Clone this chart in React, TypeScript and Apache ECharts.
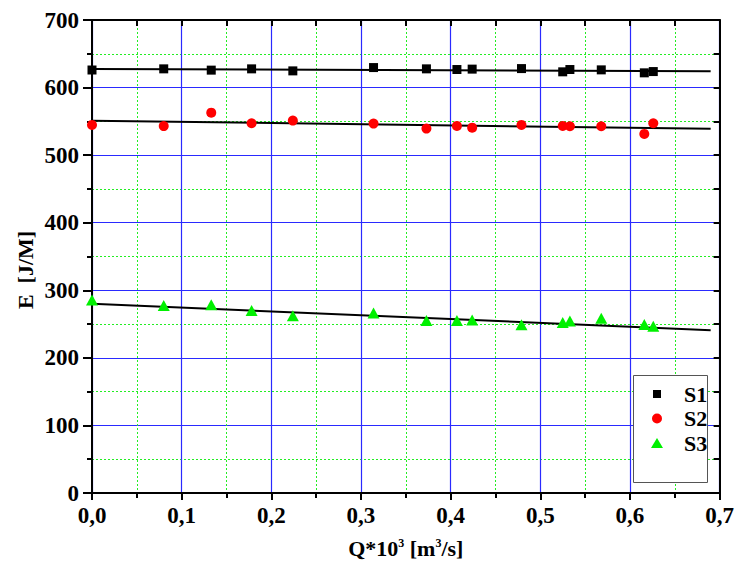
import React, { useEffect, useRef } from "react";
import * as echarts from "echarts";

const qS1 = [0.0, 0.08, 0.133, 0.178, 0.224, 0.314, 0.373, 0.407, 0.424, 0.479, 0.525, 0.533, 0.568, 0.616, 0.626];
const eS1 = [626, 627.7, 625.8, 627.7, 624.7, 629.6, 627.7, 626.7, 627.3, 628.1, 623.3, 626.7, 626.2, 621.8, 623.7];

const qS2 = [0.0, 0.08, 0.133, 0.178, 0.224, 0.314, 0.373, 0.407, 0.424, 0.479, 0.525, 0.533, 0.568, 0.616, 0.626];
const eS2 = [544.7, 543.0, 562.9, 547.2, 551.1, 546.7, 539.3, 543.3, 540.7, 544.7, 543.3, 542.8, 542.8, 531.4, 547.2];

const qS3 = [0.0, 0.08, 0.133, 0.178, 0.224, 0.314, 0.373, 0.407, 0.424, 0.479, 0.525, 0.533, 0.568, 0.616, 0.626];
const eS3 = [285.5, 277.6, 278.5, 270.2, 262.3, 266.2, 255.4, 255.4, 255.9, 248.9, 252.4, 254.6, 258.8, 249.4, 246.9];

const fitQ = [0.0, 0.69];
const fitS1 = [627.5, 624.0];
const fitS2 = [551.0, 539.0];
const fitS3 = [280.0, 241.0];

const seriesNames = ["S1", "S2", "S3"];

const zip = (xs: number[], ys: number[]) => xs.map((x, i) => [x, ys[i]]);

const FONT = "'Liberation Serif', 'Times New Roman', serif";

// legend icons padded inside a 12x12 box (the leading moves fix the bounding box)
const ICON_SQUARE = "path://M0,0M12,12M2,2L10,2L10,10L2,10Z";
const ICON_CIRCLE = "path://M0,0M12,12M1,6A5,5,0,1,1,11,6A5,5,0,1,1,1,6Z";
const ICON_TRIANGLE = "path://M0,0M12,12M6,1L12,11L0,11Z";

export default function App() {
  const ref = useRef<HTMLDivElement>(null);
  useEffect(() => {
    if (!ref.current) return;
    const chart = echarts.init(ref.current, undefined, { renderer: "svg" });
    const tickLabel = {
      fontFamily: FONT,
      fontWeight: "bold" as const,
      fontSize: 23,
      color: "#000",
    };
    const fitLine = (name: string, ys: number[]) => ({
      name,
      type: "line",
      data: zip(fitQ, ys),
      showSymbol: false,
      symbol: "none",
      lineStyle: { color: "#000", width: 2 },
      z: 3,
      silent: true,
    });
    chart.setOption({
      animation: false,
      backgroundColor: "#fff",
      grid: { left: 92, right: 14, top: 20, bottom: 79, containLabel: false },
      legend: {
        data: [
          { name: seriesNames[0], icon: ICON_SQUARE },
          { name: seriesNames[1], icon: ICON_CIRCLE },
          { name: seriesNames[2], icon: ICON_TRIANGLE },
        ],
        orient: "vertical",
        left: 651,
        top: 383,
        z: 20,
        itemWidth: 12,
        itemHeight: 12,
        itemGap: 2.5,
        padding: 0,
        textStyle: {
          fontFamily: FONT,
          fontWeight: "bold",
          fontSize: 22,
          color: "#000",
          lineHeight: 22,
          padding: [0, 0, 0, 16],
        },
      },
      graphic: [
        {
          type: "rect",
          shape: { x: 633.5, y: 375.5, width: 74, height: 107 },
          style: { fill: "#fff", stroke: "#555", lineWidth: 1 },
          z: 5,
        },
        {
          type: "text",
          x: 25,
          y: 270,
          rotation: Math.PI / 2,
          style: {
            text: "E  [J/M]",
            fontFamily: FONT,
            fontWeight: "bold",
            fontSize: 22,
            fill: "#000",
            align: "center",
            verticalAlign: "middle",
          },
        },
      ],
      xAxis: [
        {
          type: "value",
          min: 0,
          max: 0.7,
          interval: 0.1,
          position: "bottom",
          name: "Q*10{sup|3} [m{sup|3}/s]",
          nameLocation: "middle",
          nameGap: 44,
          nameTextStyle: {
            fontFamily: FONT,
            fontWeight: "bold",
            fontSize: 22,
            color: "#000",
            rich: {
              sup: {
                fontFamily: FONT,
                fontWeight: "bold",
                fontSize: 12,
                color: "#000",
                padding: [0, 0, 10, 0],
              },
            },
          },
          axisLine: { show: true, onZero: false, lineStyle: { color: "#000", width: 2 } },
          axisTick: { show: true, inside: false, length: 7, lineStyle: { color: "#000", width: 2 } },
          minorTick: { show: true, splitNumber: 2, length: 5, lineStyle: { color: "#000", width: 2 } },
          axisLabel: { ...tickLabel, margin: 11, formatter: (v: number) => v.toFixed(1).replace(".", ",") },
          splitLine: { show: true, lineStyle: { color: "#2a2aff", width: 1.2 } },
          minorSplitLine: { show: true, lineStyle: { color: "#22ee22", width: 1, type: [2, 2] } },
        },
        {
          type: "value",
          min: 0,
          max: 0.7,
          interval: 0.1,
          position: "top",
          axisLine: { show: true, onZero: false, lineStyle: { color: "#000", width: 2 } },
          axisTick: { show: true, inside: true, length: 6, lineStyle: { color: "#000", width: 2 } },
          minorTick: { show: true, splitNumber: 2, length: 6, lineStyle: { color: "#000", width: 2 } },
          axisLabel: { show: false },
          splitLine: { show: false },
          minorSplitLine: { show: false },
        },
      ],
      yAxis: [
        {
          type: "value",
          min: 0,
          max: 700,
          interval: 100,
          position: "left",
          axisLine: { show: true, onZero: false, lineStyle: { color: "#000", width: 2 } },
          axisTick: { show: true, inside: false, length: 9, lineStyle: { color: "#000", width: 2 } },
          minorTick: { show: true, splitNumber: 2, length: 5, lineStyle: { color: "#000", width: 2 } },
          axisLabel: { ...tickLabel, margin: 13 },
          splitLine: { show: true, lineStyle: { color: "#2a2aff", width: 1.2 } },
          minorSplitLine: { show: true, lineStyle: { color: "#22ee22", width: 1, type: [2, 2] } },
        },
        {
          type: "value",
          min: 0,
          max: 700,
          interval: 100,
          position: "right",
          axisLine: { show: true, onZero: false, lineStyle: { color: "#000", width: 2 } },
          axisTick: { show: true, inside: true, length: 6, lineStyle: { color: "#000", width: 2 } },
          minorTick: { show: true, splitNumber: 2, length: 6, lineStyle: { color: "#000", width: 2 } },
          axisLabel: { show: false },
          splitLine: { show: false },
          minorSplitLine: { show: false },
        },
      ],
      series: [
        {
          name: "S1",
          type: "scatter",
          data: zip(qS1, eS1),
          symbol: "rect",
          symbolSize: 9,
          itemStyle: { color: "#000", opacity: 1 },
          z: 4,
        },
        {
          name: "S2",
          type: "scatter",
          data: zip(qS2, eS2),
          symbol: "circle",
          symbolSize: 10,
          itemStyle: { color: "#ff0000", opacity: 1 },
          z: 4,
        },
        {
          name: "S3",
          type: "scatter",
          data: zip(qS3, eS3),
          symbol: "triangle",
          symbolSize: [12, 11],
          itemStyle: { color: "#00f000", opacity: 1 },
          z: 4,
        },
        fitLine("fit S1", fitS1),
        fitLine("fit S2", fitS2),
        fitLine("fit S3", fitS3),
      ],
    });
    return () => chart.dispose();
  }, []);
  return <div ref={ref} style={{ position: "absolute", left: 0, top: 0, width: 737, height: 572 }} />;
}
